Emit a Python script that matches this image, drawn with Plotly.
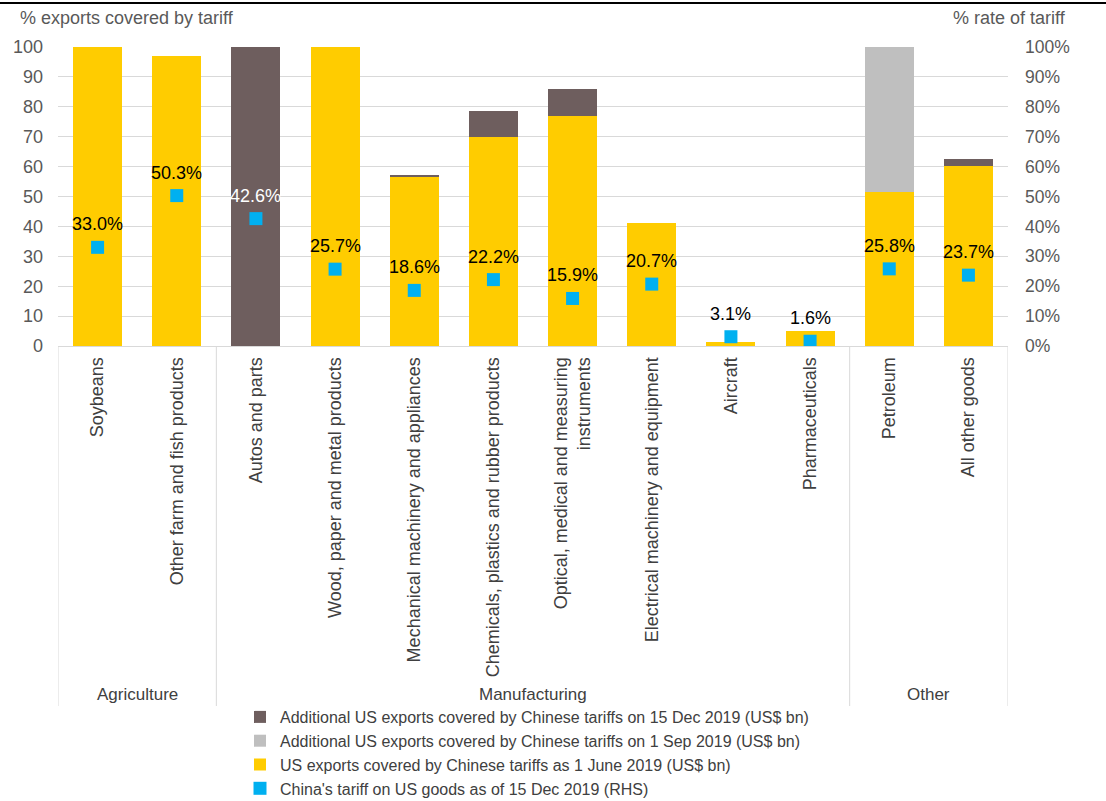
import plotly.graph_objects as go

categories = ["Soybeans", "Other farm and fish products", "Autos and parts",
              "Wood, paper and metal products", "Mechanical machinery and appliances",
              "Chemicals, plastics and rubber products",
              "Optical, medical and measuring<br>instruments",
              "Electrical machinery and equipment", "Aircraft", "Pharmaceuticals",
              "Petroleum", "All other goods"]
groups = ["Agriculture", "Agriculture", "Manufacturing", "Manufacturing", "Manufacturing",
          "Manufacturing", "Manufacturing", "Manufacturing", "Manufacturing", "Manufacturing",
          "Other", "Other"]
june_2019 = [100, 97.1, 0, 100, 56.4, 70.0, 77.0, 41.2, 1.3, 5.0, 51.5, 60.2]
sep_2019 = [0, 0, 0, 0, 0, 0, 0, 0, 0, 0, 48.5, 0]
dec_2019 = [0, 0, 100, 0, 0.9, 8.6, 9.0, 0, 0, 0, 0, 2.4]
tariff_rate = [33.0, 50.3, 42.6, 25.7, 18.6, 22.2, 15.9, 20.7, 3.1, 1.6, 25.8, 23.7]

name_dec = "Additional US exports covered by Chinese tariffs on 15 Dec 2019 (US$ bn)"
name_sep = "Additional US exports covered by Chinese tariffs on 1 Sep 2019 (US$ bn)"
name_jun = "US exports covered by Chinese tariffs as 1 June 2019 (US$ bn)"
name_rate = "China's tariff on US goods as of 15 Dec 2019 (RHS)"

FONT = "Liberation Sans, Arial, sans-serif"
x = list(range(len(categories)))

fig = go.Figure()
fig.add_trace(go.Bar(x=x, y=june_2019, name=name_jun, marker=dict(color="#FFCC00", line=dict(width=0)), legendrank=3))
fig.add_trace(go.Bar(x=x, y=sep_2019, name=name_sep, marker=dict(color="#BFBFBF", line=dict(width=0)), legendrank=2))
fig.add_trace(go.Bar(x=x, y=dec_2019, name=name_dec, marker=dict(color="#6E5E5E", line=dict(width=0)), legendrank=1))
fig.add_trace(go.Scatter(x=x, y=tariff_rate, name=name_rate, mode="markers", yaxis="y2",
                         marker=dict(symbol="square", size=13, color="#00B0F0", line=dict(width=0)),
                         legendrank=4))

annotations = []
for i, v in enumerate(tariff_rate):
    col = "white" if june_2019[i] == 0 else "black"
    annotations.append(dict(x=i, y=v, xref="x", yref="y2", text=f"{v:.1f}%", showarrow=False,
                            yshift=23, font=dict(family=FONT, size=18, color=col)))

plot_top, plot_bottom, plot_left, plot_right = 47, 346, 58, 1008
W, H = 1106, 801
ph = plot_bottom - plot_top
pw = plot_right - plot_left
def py(pix):
    return (plot_bottom - pix) / ph
def px(pix):
    return (pix - plot_left) / pw

unique_groups = []
for g in groups:
    if g not in unique_groups:
        unique_groups.append(g)
shapes = []
bounds = [-0.5]
for g in unique_groups:
    idx = [i for i, gg in enumerate(groups) if gg == g]
    annotations.append(dict(x=sum(idx) / len(idx), y=py(694), xref="x", yref="paper", text=g,
                            showarrow=False, yanchor="middle",
                            font=dict(family=FONT, size=17, color="#404040")))
    bounds.append(max(idx) + 0.5)
for b in bounds:
    shapes.append(dict(type="line", xref="x", yref="paper", x0=b, x1=b, y0=0, y1=py(706),
                       line=dict(color="#D9D9D9", width=1)))
shapes.append(dict(type="line", xref="paper", yref="paper", x0=px(0), x1=px(W),
                   y0=py(3), y1=py(3), line=dict(color="black", width=2)))

annotations.append(dict(x=px(18), y=py(18), xref="paper", yref="paper", xanchor="left", yanchor="middle",
                        text="% exports covered by tariff", showarrow=False,
                        font=dict(family=FONT, size=18, color="#595959")))
annotations.append(dict(x=px(1068), y=py(18), xref="paper", yref="paper", xanchor="right", yanchor="middle",
                        text="% rate of tariff", showarrow=False,
                        font=dict(family=FONT, size=18, color="#595959")))

fig.update_layout(
    width=W, height=H,
    margin=dict(l=plot_left, r=W - plot_right, t=plot_top, b=H - plot_bottom, pad=0),
    paper_bgcolor="white", plot_bgcolor="white",
    barmode="stack", bargap=0.38,
    font=dict(family=FONT, size=18, color="#595959"),
    xaxis=dict(tickmode="array", tickvals=x, ticktext=categories, range=[-0.5, 11.5],
               tickangle=-90, showgrid=False, zeroline=False, showline=True, linecolor="#D9D9D9",
               linewidth=1, ticks="", ticklabelstandoff=3,
               tickfont=dict(family=FONT, size=18, color="#404040")),
    yaxis=dict(range=[0, 100], dtick=10, showgrid=True, gridcolor="#D9D9D9", gridwidth=1,
               zeroline=False, showline=False, ticks="", ticklabelstandoff=14,
               tickfont=dict(family=FONT, size=18, color="#595959")),
    yaxis2=dict(range=[0, 100], dtick=10, overlaying="y", side="right", showgrid=False,
                zeroline=False, showline=False, ticks="", ticksuffix="%", ticklabelstandoff=16,
                tickfont=dict(family=FONT, size=17.5, color="#595959")),
    legend=dict(x=px(240), xref="paper", y=(H - 700) / H, yref="container",
                xanchor="left", yanchor="top", traceorder="normal",
                font=dict(family=FONT, size=16, color="#404040"), itemwidth=30,
                bgcolor="rgba(0,0,0,0)", tracegroupgap=0),
    annotations=annotations, shapes=shapes, showlegend=True,
)

fig.write_html("out.html")
